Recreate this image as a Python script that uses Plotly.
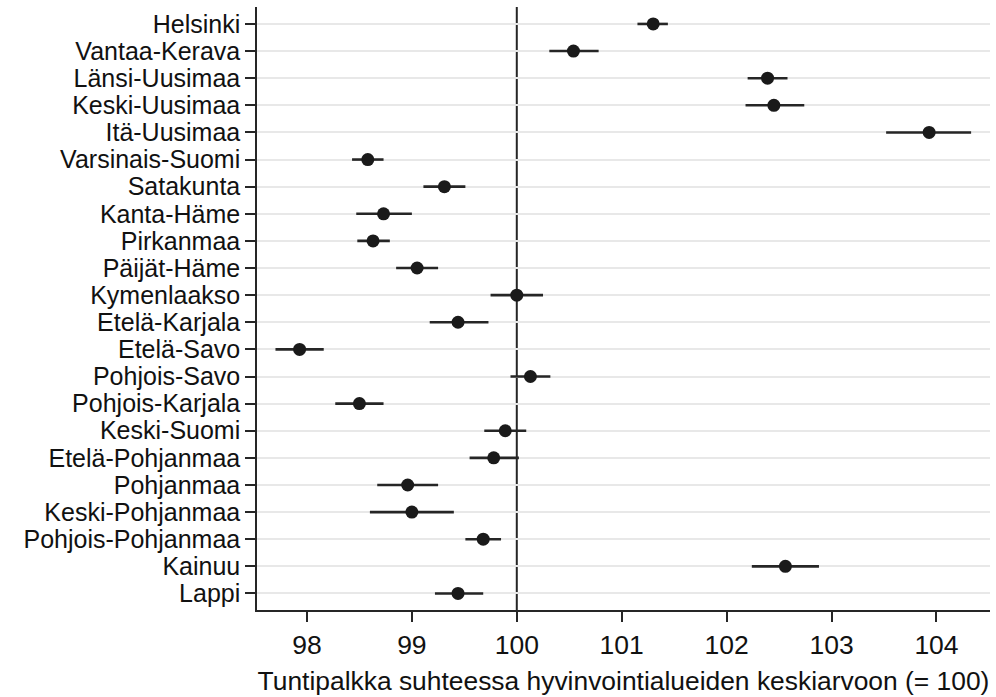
import plotly.graph_objects as go

regions = ["Helsinki", "Vantaa-Kerava", "Länsi-Uusimaa", "Keski-Uusimaa", "Itä-Uusimaa",
           "Varsinais-Suomi", "Satakunta", "Kanta-Häme", "Pirkanmaa", "Päijät-Häme",
           "Kymenlaakso", "Etelä-Karjala", "Etelä-Savo", "Pohjois-Savo", "Pohjois-Karjala",
           "Keski-Suomi", "Etelä-Pohjanmaa", "Pohjanmaa", "Keski-Pohjanmaa",
           "Pohjois-Pohjanmaa", "Kainuu", "Lappi"]
estimate = [101.30, 100.54, 102.39, 102.45, 103.93,
            98.58, 99.31, 98.73, 98.63, 99.05,
            100.00, 99.44, 97.93, 100.13, 98.50,
            99.89, 99.78, 98.96, 99.00,
            99.68, 102.56, 99.44]
ci_low = [101.15, 100.31, 102.20, 102.18, 103.52,
          98.43, 99.11, 98.47, 98.48, 98.85,
          99.75, 99.17, 97.70, 99.94, 98.27,
          99.69, 99.55, 98.67, 98.60,
          99.51, 102.24, 99.22]
ci_high = [101.44, 100.78, 102.58, 102.74, 104.33,
           98.73, 99.51, 99.00, 98.79, 99.25,
           100.25, 99.73, 98.16, 100.32, 98.73,
           100.09, 100.02, 99.25, 99.40,
           99.85, 102.88, 99.68]
x_ticks = [98, 99, 100, 101, 102, 103, 104]
ref_value = 100
x_title = "Tuntipalkka suhteessa hyvinvointialueiden keskiarvoon (= 100)"

FONT = "Arial, 'Liberation Sans', sans-serif"
DARK = "#262626"
TXT = "#111111"

err_plus = [h - e for h, e in zip(ci_high, estimate)]
err_minus = [e - l for e, l in zip(estimate, ci_low)]

fig = go.Figure()
fig.add_trace(go.Scatter(
    x=estimate, y=regions, mode="markers",
    marker=dict(size=13, color="#1a1a1a", line=dict(width=0)),
    error_x=dict(type="data", symmetric=False, array=err_plus, arrayminus=err_minus,
                 color=DARK, thickness=2.6, width=0),
    showlegend=False, hoverinfo="x+y",
))

fig.add_shape(type="line", xref="x", yref="paper", x0=ref_value, x1=ref_value, y0=0, y1=1,
              line=dict(color=DARK, width=2), layer="below")

fig.update_layout(
    width=996, height=697,
    margin=dict(l=257, r=6, t=7, b=85),
    paper_bgcolor="white", plot_bgcolor="white",
    font=dict(family=FONT, size=26, color=TXT),
    xaxis=dict(
        range=[97.524, 104.51], tickmode="array", tickvals=x_ticks,
        ticktext=[str(v) for v in x_ticks],
        showgrid=False, zeroline=False,
        showline=True, linecolor=DARK, linewidth=1.5,
        ticks="outside", ticklen=10, tickwidth=1.5, tickcolor=DARK,
        tickfont=dict(size=26.5, family=FONT, color=TXT),
        title=dict(text=x_title, font=dict(size=26.4, family=FONT, color=TXT), standoff=13),
    ),
    yaxis=dict(
        categoryorder="array", categoryarray=regions[::-1],
        tickmode="array", tickvals=regions, ticktext=regions,
        range=[-0.61, 21.625],
        showgrid=True, gridcolor="#e8e8e8", gridwidth=2,
        zeroline=False,
        showline=True, linecolor=DARK, linewidth=1.5,
        ticks="outside", ticklen=10, tickwidth=1.5, tickcolor=DARK,
        tickfont=dict(size=25, family=FONT, color=TXT),
    ),
)

fig.write_html("out.html")
